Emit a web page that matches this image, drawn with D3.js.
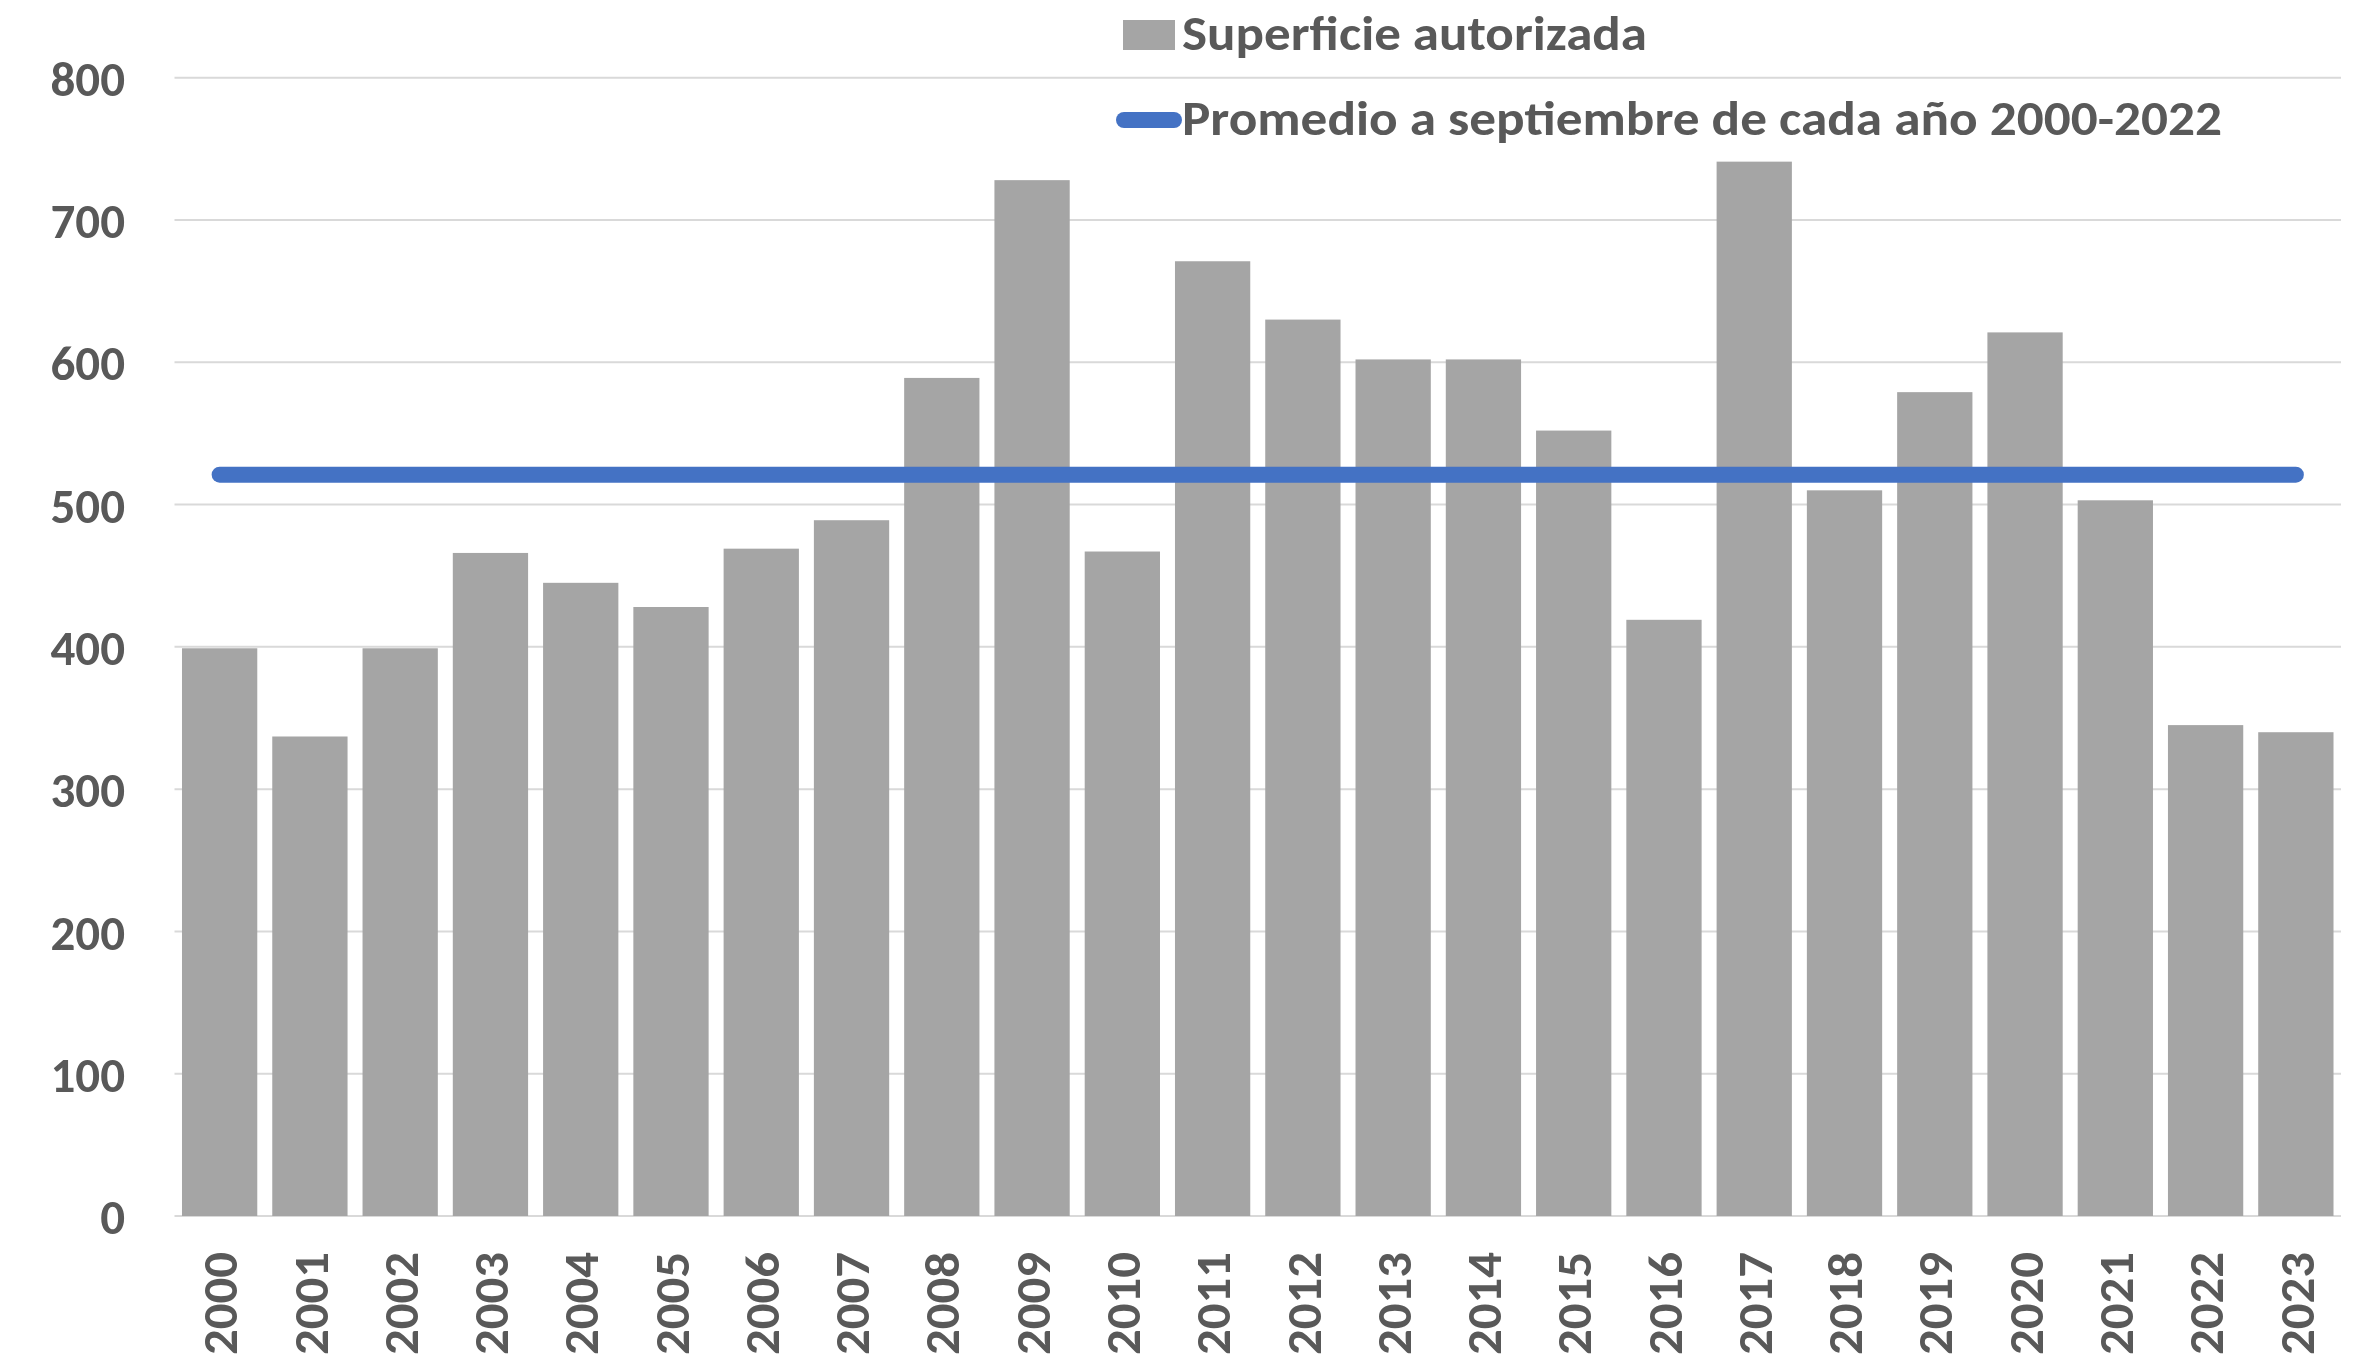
<!DOCTYPE html>
<html>
<head>
<meta charset="utf-8">
<script src="https://cdn.jsdelivr.net/npm/d3@7"></script>
<style>
  html, body { margin: 0; padding: 0; background: #ffffff; }
  svg { display: block; }
</style>
</head>
<body>
<svg id="chart" width="2361" height="1358"></svg>
<script>
const years = ["2000","2001","2002","2003","2004","2005","2006","2007","2008","2009","2010","2011",
               "2012","2013","2014","2015","2016","2017","2018","2019","2020","2021","2022","2023"];
const superficie = [399, 337, 399, 466, 445, 428, 469, 489, 589, 728, 467, 671,
                    630, 602, 602, 552, 419, 741, 510, 579, 621, 503, 345, 340];
const promedio = [521, 521, 521, 521, 521, 521, 521, 521, 521, 521, 521, 521,
                  521, 521, 521, 521, 521, 521, 521, 521, 521, 521, 521, 521];
const yTicks = [0, 100, 200, 300, 400, 500, 600, 700, 800];
const seriesNames = ["Superficie autorizada", "Promedio a septiembre de cada año 2000-2022"];

const plotLeft = 174.5, plotRight = 2341, plotTop = 77.7, plotBottom = 1216;
const textColor = "#595959";
const barColor = "#a5a5a5";
const lineColor = "#4472c4";
const gridColor = "#d9d9d9";
const font = "Carlito, Calibri, Lato, 'Open Sans', 'Noto Sans', sans-serif";

const svg = d3.select("#chart");

const x = d3.scaleBand().domain(years).range([plotLeft, plotRight]).paddingInner(0.166).paddingOuter(0.083);
const y = d3.scaleLinear().domain([0, 800]).range([plotBottom, plotTop]);

// gridlines
svg.append("g").selectAll("line").data(yTicks).join("line")
  .attr("x1", plotLeft).attr("x2", plotRight)
  .attr("y1", d => y(d)).attr("y2", d => y(d))
  .attr("stroke", gridColor).attr("stroke-width", 2);

// y axis labels
const yAxis = d3.axisLeft(y).tickValues(yTicks).tickSize(0).tickPadding(0).tickFormat(d3.format("d"));
const gy = svg.append("g").attr("transform", `translate(${125},0)`).call(yAxis);
gy.select(".domain").remove();
gy.selectAll("text")
  .attr("fill", textColor)
  .attr("font-family", font)
  .attr("font-weight", "bold")
  .attr("font-size", 49)
  .attr("dy", "0.36em");

// bars
svg.append("g").selectAll("rect").data(superficie).join("rect")
  .attr("x", (d, i) => x(years[i]))
  .attr("width", x.bandwidth())
  .attr("y", d => y(d))
  .attr("height", d => y(0) - y(d))
  .attr("fill", barColor);

// x axis labels
const xAxis = d3.axisBottom(x).tickSize(0).tickPadding(0);
const gx = svg.append("g").attr("transform", `translate(0,${1252})`).call(xAxis);
gx.select(".domain").remove();
gx.selectAll("text")
  .attr("fill", textColor)
  .attr("font-family", font)
  .attr("font-weight", "bold")
  .attr("font-size", 49)
  .attr("text-anchor", "end")
  .attr("textLength", 103)
  .attr("lengthAdjust", "spacingAndGlyphs")
  .attr("transform", "rotate(-90)")
  .attr("x", 0)
  .attr("y", 0)
  .attr("dy", "0.36em");

// average line
const line = d3.line()
  .x((d, i) => x(years[i]) + x.bandwidth() / 2)
  .y(d => y(d));
svg.append("path")
  .datum(promedio)
  .attr("d", line)
  .attr("fill", "none")
  .attr("stroke", lineColor)
  .attr("stroke-width", 16)
  .attr("stroke-linecap", "round");

// legend
const lg = svg.append("g");
lg.append("rect").attr("x", 1123).attr("y", 20).attr("width", 52).attr("height", 30).attr("fill", barColor);
lg.append("text").attr("x", 1182).attr("y", 50)
  .attr("fill", textColor).attr("font-family", font).attr("font-weight", "bold").attr("font-size", 49)
  .attr("textLength", 465).attr("lengthAdjust", "spacingAndGlyphs")
  .text(seriesNames[0]);
lg.append("line").attr("x1", 1124).attr("x2", 1174).attr("y1", 120).attr("y2", 120)
  .attr("stroke", lineColor).attr("stroke-width", 16).attr("stroke-linecap", "round");
lg.append("text").attr("x", 1182).attr("y", 135)
  .attr("fill", textColor).attr("font-family", font).attr("font-weight", "bold").attr("font-size", 49)
  .attr("textLength", 1040).attr("lengthAdjust", "spacingAndGlyphs")
  .text(seriesNames[1]);
</script>
</body>
</html>
